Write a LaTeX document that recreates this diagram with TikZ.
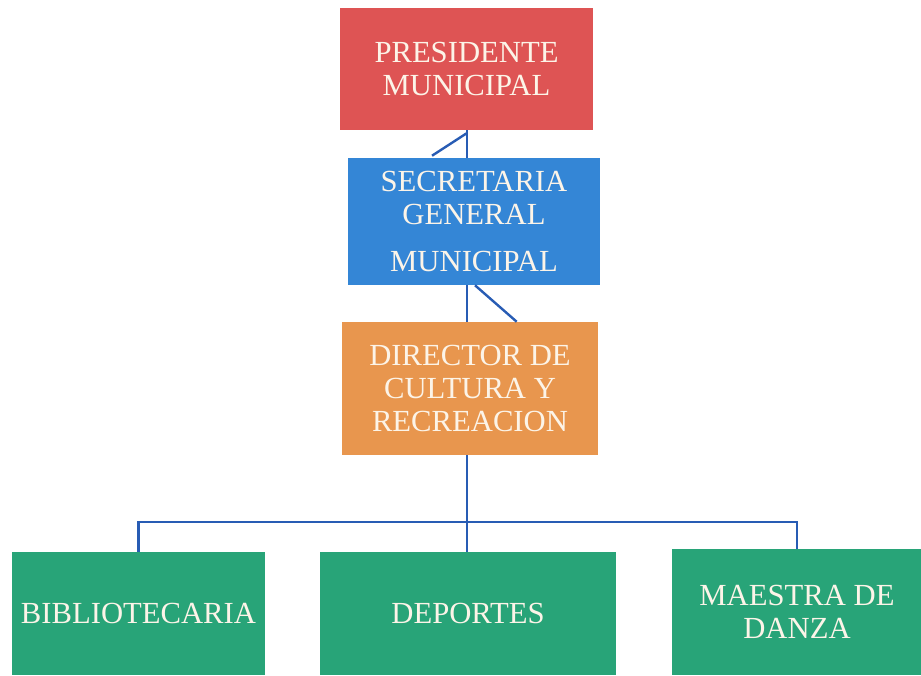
\documentclass[tikz,border=0pt]{standalone}
\usepackage{fontspec}
\setmainfont{Liberation Serif}
\definecolor{presred}{RGB}{222,84,84}
\definecolor{secblue}{RGB}{52,134,214}
\definecolor{dirorange}{RGB}{232,150,78}
\definecolor{areagreen}{RGB}{40,164,120}
\definecolor{linkblue}{RGB}{40,92,180}
\definecolor{boxtext}{RGB}{252,244,232}
\begin{document}
\begin{tikzpicture}[
  x=0.75pt, y=-0.75pt,
  post/.style={fill=#1, text=boxtext, align=center, inner sep=0pt,
    font=\fontsize{23}{24.5}\selectfont},
  link/.style={draw=linkblue, line width=1.8pt},
]
  \useasboundingbox (0,0) rectangle (921,675);
  % Top of the chart
  \node[post=presred, minimum width=189.75pt, minimum height=91.5pt] (pres) at (466.5,69) {PRESIDENTE\\MUNICIPAL};
  \node[post=secblue, minimum width=189pt, minimum height=95.25pt] (sec) at (474,221.5) {SECRETARIA\\GENERAL\\[11pt]MUNICIPAL};
  \node[post=dirorange, minimum width=192pt, minimum height=99.75pt] (dir) at (470,388.5) {DIRECTOR DE\\CULTURA Y\\RECREACION};
  % Bottom row
  \node[post=areagreen, minimum width=189.75pt, minimum height=92.25pt] (bib) at (138.5,613.5) {BIBLIOTECARIA};
  \node[post=areagreen, minimum width=222pt, minimum height=92.25pt] (dep) at (468,613.5) {DEPORTES};
  \node[post=areagreen, minimum width=187.5pt, minimum height=94.5pt] (mae) at (797,612) {MAESTRA DE\\DANZA};
  % Connectors
  \coordinate (bus) at (467,522);
  \draw[link] ([xshift=0.5pt]pres.south) -- ([xshift=0.5pt]pres.south |- sec.north);
  \draw[link] ([xshift=0.5pt,yshift=-2pt]pres.south) -- ([xshift=-31.5pt,yshift=1.5pt]sec.north);
  \draw[link] (sec.south -| bus) -- (dir.north -| bus);
  \draw[link] ([xshift=0.75pt]sec.south) -- ([xshift=35pt]dir.north);
  \draw[link] (dir.south -| bus) -- (dep.north -| bus);
  \draw[link] (bib.north) |- (bus) -| (mae.north);
\end{tikzpicture}
\end{document}
